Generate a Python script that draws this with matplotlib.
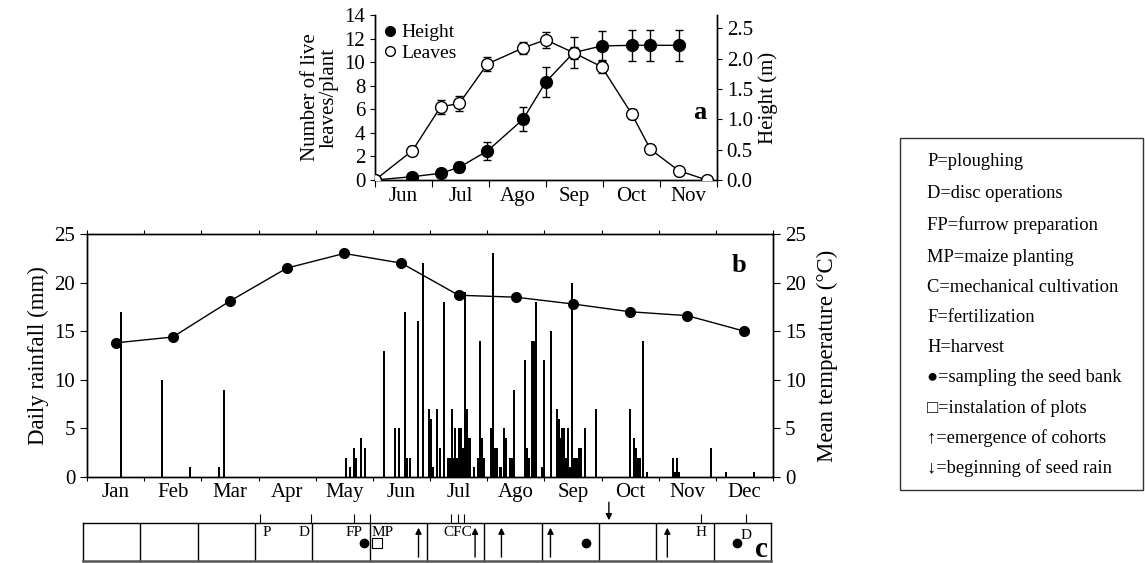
import numpy as np
import matplotlib.pyplot as plt
from matplotlib.patches import Rectangle
from matplotlib.lines import Line2D

plt.rcParams['font.family'] = ['Liberation Serif', 'DejaVu Serif']
plt.rcParams['axes.linewidth'] = 1.0

# panel a: crop development (days after 1 June)
months_a = ['Jun', 'Jul', 'Ago', 'Sep', 'Oct', 'Nov']
leaf_day = [0, 20, 35, 45, 60, 79, 91, 106, 121, 137, 147, 162, 177]
leaves = [0, 2.5, 6.2, 6.5, 9.85, 11.2, 11.9, 10.8, 9.6, 5.6, 2.6, 0.8, 0]
leaves_err = [0, 0.4, 0.6, 0.65, 0.6, 0.55, 0.7, 0.5, 0.55, 0.45, 0.2, 0.1, 0]
height_day = [0, 20, 35, 45, 60, 79, 91, 106, 121, 137, 147, 162]
height_m = [0, 0.055, 0.11, 0.21, 0.48, 1.0, 1.61, 2.1, 2.21, 2.22, 2.22, 2.22]
height_err = [0, 0.02, 0.03, 0.08, 0.15, 0.2, 0.25, 0.25, 0.25, 0.26, 0.26, 0.26]

# panel b: rainfall and temperature (day of year)
months_b = ['Jan', 'Feb', 'Mar', 'Apr', 'May', 'Jun', 'Jul', 'Ago', 'Sep', 'Oct', 'Nov', 'Dec']
temp_c = [13.8, 14.4, 18.1, 21.5, 23.0, 22.0, 18.7, 18.5, 17.8, 17.0, 16.6, 15.0]
rain_day = [18, 40, 55, 70, 73, 138, 140, 142, 143, 146, 148, 158, 164, 166,
            169, 170, 172, 176, 179, 182, 183, 184, 186, 188, 190, 192, 193, 194,
            195, 196, 197, 198, 199, 200, 201, 202, 203, 204, 206, 208, 209, 210,
            211, 215, 216, 217, 218, 220, 222, 223, 225, 226, 227, 233, 234, 235,
            237, 238, 239, 242, 243, 247, 250, 251, 252, 253, 254, 255, 256, 257,
            258, 259, 260, 261, 262, 263, 265, 271, 289, 291, 292, 293, 294, 296,
            298, 312, 313, 314, 315, 332, 340, 355]
rain_mm = [17, 10, 1, 1, 9, 2, 1, 3, 2, 4, 3, 13, 5, 5,
           17, 2, 2, 16, 22, 7, 6, 1, 7, 3, 18, 2, 2, 7,
           2, 5, 2, 5, 5, 3, 19, 7, 4, 4, 1, 2, 14, 4,
           2, 5, 23, 3, 3, 1, 5, 4, 2, 2, 9, 12, 3, 2,
           14, 14, 18, 1, 12, 15, 7, 6, 4, 5, 5, 2, 5, 1,
           20, 2, 2, 2, 3, 3, 5, 7, 7, 4, 3, 2, 2, 14,
           0.5, 2, 0.5, 2, 0.5, 3, 0.5, 0.5]

# panel c: field operations and sampling events (day of year)
op_tick_day = [94, 121, 144, 152, 195, 199, 202, 328, 352]
op_labels = ['P', 'D', 'FP', 'MP', 'CFC', 'H', 'D']
op_label_day = [95, 120, 144, 153, 199, 328, 352]
op_ha = ['left', 'right', 'center', 'left', 'center', 'center', 'center']
emergence_day = [178, 208, 222, 248, 310]
seedbank_day = [149, 267, 347]
plots_day = [156]
seedrain_day = [279]

legend_lines = ['P=ploughing', 'D=disc operations', 'FP=furrow preparation',
                'MP=maize planting', 'C=mechanical cultivation', 'F=fertilization',
                'H=harvest', '\u25cf=sampling the seed bank', '\u25a1=instalation of plots',
                '\u2191=emergence of cohorts', '\u2193=beginning of seed rain']

W, H = 1145, 563
fig = plt.figure(figsize=(W / 100, H / 100), dpi=100)

def box(l, t, r, b):
    return [l / W, 1 - b / H, (r - l) / W, (b - t) / H]

mlen = 365 / 12
fs = 15

# ---- panel a
axa = fig.add_axes(box(375, 15, 717, 180))
axa2 = axa.twinx()
axa2.errorbar(height_day, height_m, yerr=height_err, fmt='-o', color='black', mfc='black',
              ms=8.5, lw=1, elinewidth=1, capsize=3)
axa2.set_ylim(0, 2.72)
axa2.set_yticks(np.arange(0, 2.6, 0.5))
axa2.set_yticklabels(['%.1f' % v for v in np.arange(0, 2.6, 0.5)], fontsize=fs)
axa2.set_ylabel('Height (m)', fontsize=fs)
axa.errorbar(leaf_day, leaves, yerr=leaves_err, fmt='-o', color='black', mfc='white',
             ms=8.5, lw=1, elinewidth=1, capsize=3, zorder=5)
axa.set_zorder(axa2.get_zorder() + 1)
axa.patch.set_visible(False)
axa.set_xlim(0, 6 * mlen)
axa.set_ylim(0, 14)
axa.set_yticks(range(0, 15, 2))
axa.tick_params(labelsize=fs)
axa.set_xticks(np.arange(7) * mlen)
axa.set_xticklabels([])
axa.set_xticks((np.arange(6) + 0.5) * mlen, minor=True)
axa.set_xticklabels(months_a, minor=True, fontsize=fs)
axa.tick_params(axis='x', which='minor', length=0, pad=5)
axa.tick_params(axis='x', which='major', length=5)
axa.set_ylabel('Number of live\nleaves/plant', fontsize=fs, linespacing=1.0)
for a in (axa, axa2):
    a.spines['top'].set_visible(False)
handles = [Line2D([], [], ls='', marker='o', color='black', mfc='black', ms=7),
           Line2D([], [], ls='', marker='o', color='black', mfc='white', ms=7)]
axa.legend(handles, ['Height', 'Leaves'], loc='upper left', frameon=False,
           fontsize=fs - 1, handlelength=0.6, handletextpad=0.3, borderaxespad=0.15,
           labelspacing=0.15, borderpad=0.3)
axa.text(0.95, 0.41, 'a', transform=axa.transAxes, fontsize=19, fontweight='bold',
         ha='center', va='center')

# ---- panel b
axb = fig.add_axes(box(87, 234, 773, 477))
axb.bar(rain_day, rain_mm, width=1.1, color='black', linewidth=0)
axb.set_xlim(0, 365)
axb.set_ylim(0, 25)
axb.set_yticks(range(0, 26, 5))
axb.tick_params(axis='y', labelsize=fs, length=5)
axb.set_xticks(np.arange(13) * mlen)
axb.set_xticklabels([])
axb.set_xticks((np.arange(12) + 0.5) * mlen, minor=True)
axb.set_xticklabels(months_b, minor=True, fontsize=fs)
axb.tick_params(axis='x', which='minor', length=0, pad=4)
axb.tick_params(axis='x', which='major', length=3, top=True)
axb.set_ylabel('Daily rainfall (mm)', fontsize=fs + 1.5)
axb2 = axb.twinx()
axb2.plot((np.arange(12) + 0.5) * mlen, temp_c, '-o', color='black', ms=7, lw=1)
axb2.set_ylim(0, 25)
axb2.set_yticks(range(0, 26, 5))
axb2.tick_params(axis='y', labelsize=fs, length=5)
axb2.set_ylabel('Mean temperature (\u00b0C)', fontsize=fs + 1.5, labelpad=8)
axb.text(347, 21.8, 'b', fontsize=19, fontweight='bold', ha='center', va='center')

# ---- panel c
axc = fig.add_axes(box(83, 523, 771, 561))
axc.set_xlim(0, 365)
axc.set_ylim(0, 1)
axc.set_xticks([])
axc.set_yticks([])
for m in range(1, 12):
    axc.axvline(m * mlen, color='black', lw=1)
axc.spines['bottom'].set_linewidth(1.8)
axc.spines['bottom'].set_color('#555555')
axc.vlines(op_tick_day, 1, 1.25, color='black', lw=0.8, clip_on=False)
for lab, d, ha in zip(op_labels, op_label_day, op_ha):
    y = 0.68 if (lab == 'D' and d > 300) else 0.76
    axc.text(d, y, lab, ha=ha, va='center', fontsize=11)
axc.plot(seedbank_day, [0.48] * len(seedbank_day), 'o', color='black', ms=6)
axc.plot(plots_day, [0.47] * len(plots_day), 's', mfc='white', mec='black', ms=7, mew=0.8)
for d in emergence_day:
    axc.annotate('', xy=(d, 0.95), xytext=(d, 0.03),
                 arrowprops=dict(arrowstyle='-|>', color='black', lw=1, mutation_scale=9))
for d in seedrain_day:
    axc.annotate('', xy=(d, 1.0), xytext=(d, 1.62), annotation_clip=False,
                 arrowprops=dict(arrowstyle='-|>', color='black', lw=1, mutation_scale=9))
axc.text(360, 0.3, 'c', fontsize=21, fontweight='bold', ha='center', va='center')

# ---- key box
fig.patches.append(Rectangle((900 / W, 1 - 490 / H), 243 / W, 352 / H, transform=fig.transFigure,
                             fill=False, edgecolor='#333333', lw=1))
ys = [162, 194, 225, 257, 288, 317, 348, 378, 408, 438, 468]
for txt, y in zip(legend_lines, ys):
    fig.text(927 / W, 1 - y / H, txt, fontsize=13.3, va='center', ha='left',
             family=['Liberation Serif', 'DejaVu Serif'])

fig.savefig('out.png', dpi=100)
